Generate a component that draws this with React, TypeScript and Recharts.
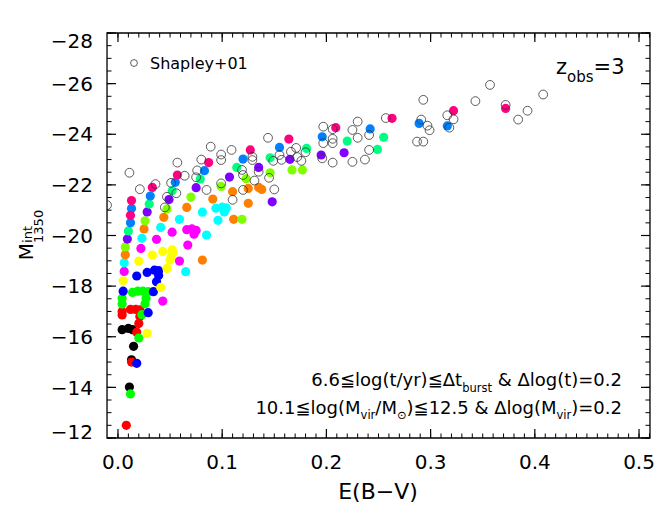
import React from "react";
import { ScatterChart, Scatter, XAxis, YAxis, ReferenceArea } from "recharts";

const FONT = "DejaVu Sans";

// model tracks, one colour each: [E(B-V), M_1350]
const BLACK_PTS = [[0.004, -16.28], [0.010, -16.33], [0.014, -16.28], [0.015, -15.62], [0.013, -15.09], [0.011, -14.01]];
const RED_PTS = [[0.004, -17.0], [0.004, -16.86], [0.012, -17.08], [0.017, -17.08], [0.021, -17.06], [0.021, -16.8], [0.020, -16.52], [0.018, -16.18], [0.013, -15.0], [0.008, -12.5]];
const GREEN_PTS = [[0.004, -17.52], [0.004, -17.29], [0.014, -17.75], [0.019, -17.8], [0.024, -17.8], [0.029, -17.78], [0.027, -17.52], [0.026, -17.3], [0.023, -16.87], [0.020, -15.95], [0.012, -13.74]];
const BLUE_PTS = [[0.005, -17.8], [0.018, -18.4], [0.028, -18.54], [0.035, -18.63], [0.039, -18.61], [0.039, -18.42], [0.037, -18.17], [0.034, -17.78], [0.029, -16.95], [0.018, -14.95]];
const YELLOW_PTS = [[0.005, -18.21], [0.020, -18.99], [0.033, -19.23], [0.043, -19.37], [0.052, -19.43], [0.053, -19.32], [0.051, -19.16], [0.050, -19.03], [0.047, -18.7], [0.041, -17.95], [0.028, -16.13]];
const MAGENTA_PTS = [[0.006, -18.58], [0.022, -19.49], [0.037, -19.85], [0.052, -20.13], [0.066, -20.23], [0.071, -20.26], [0.075, -20.2], [0.073, -20.05], [0.067, -19.62], [0.059, -18.99], [0.043, -17.41]];
const CYAN_PTS = [[0.006, -18.92], [0.023, -19.89], [0.041, -20.32], [0.059, -20.64], [0.081, -20.92], [0.094, -21.08], [0.100, -21.12], [0.104, -21.09], [0.102, -20.93], [0.096, -20.6], [0.085, -20.02], [0.065, -18.57]];
const ORANGE_PTS = [[0.007, -19.24], [0.025, -20.26], [0.044, -20.72], [0.066, -21.11], [0.091, -21.44], [0.110, -21.73], [0.125, -21.86], [0.135, -21.9], [0.138, -21.82], [0.125, -21.27], [0.111, -20.64], [0.081, -19.03]];
const CHARTREUSE_PTS = [[0.007, -19.55], [0.026, -20.58], [0.047, -21.05], [0.070, -21.52], [0.099, -21.94], [0.123, -22.24], [0.146, -22.48], [0.167, -22.59], [0.177, -22.59], [0.119, -20.64]];
const PURPLE_PTS = [[0.009, -19.86], [0.028, -20.93], [0.049, -21.42], [0.075, -21.89], [0.107, -22.31], [0.135, -22.69], [0.165, -23.01], [0.195, -23.18], [0.217, -23.27], [0.148, -21.33]];
const SPRING_PTS = [[0.010, -20.18], [0.030, -21.24], [0.052, -21.77], [0.079, -22.23], [0.114, -22.69], [0.146, -23.07], [0.181, -23.44], [0.220, -23.73], [0.255, -23.88], [0.249, -23.4]];
const AZURE_PTS = [[0.013, -21.07], [0.012, -20.5], [0.031, -21.56], [0.055, -22.1], [0.083, -22.56], [0.120, -23.02], [0.155, -23.48], [0.196, -23.9], [0.242, -24.21], [0.289, -24.43], [0.316, -24.33]];
const PINK_PTS = [[0.013, -21.38], [0.012, -20.8], [0.033, -21.9], [0.057, -22.39], [0.087, -22.88], [0.127, -23.38], [0.164, -23.81], [0.209, -24.26], [0.263, -24.63], [0.322, -24.93], [0.372, -25.02]];

// Shapley et al. 2001 LBGs
const SHAPLEY_PTS = [
  [-0.0105, -21.2], [0.011, -22.48], [0.021, -21.83], [0.036, -22.03], [0.047, -21.53], [0.045, -21.11],
  [0.051, -22.08], [0.056, -21.67], [0.057, -22.88], [0.064, -22.36], [0.076, -22.57], [0.075, -22.3],
  [0.080, -23.0], [0.085, -21.8], [0.089, -23.51], [0.099, -23.2], [0.099, -22.98], [0.099, -22.06],
  [0.109, -23.38], [0.110, -21.41], [0.119, -22.59], [0.120, -22.39], [0.120, -21.8], [0.129, -23.11],
  [0.129, -22.98], [0.135, -22.52], [0.131, -22.17], [0.144, -23.86], [0.145, -22.28], [0.150, -21.82],
  [0.149, -22.95], [0.155, -23.18], [0.157, -22.99], [0.166, -23.31], [0.171, -23.46], [0.172, -23.1],
  [0.176, -22.95], [0.180, -23.29], [0.197, -24.3], [0.197, -23.65], [0.196, -23.05], [0.206, -24.2],
  [0.206, -23.82], [0.206, -23.65], [0.206, -22.88], [0.225, -24.17], [0.230, -24.5], [0.230, -23.86],
  [0.225, -22.91], [0.237, -23.0], [0.241, -23.97], [0.241, -23.38], [0.257, -24.64], [0.287, -23.71],
  [0.293, -23.71], [0.293, -25.36], [0.291, -24.58], [0.297, -24.34], [0.299, -24.16], [0.316, -24.75],
  [0.318, -24.26], [0.322, -24.59], [0.343, -25.31], [0.357, -25.95], [0.372, -25.16], [0.384, -24.58],
  [0.393, -24.93], [0.408, -25.57],
];

const TRACKS = [
  { key: "black", color: "#000000", pts: BLACK_PTS },
  { key: "red", color: "#ff0000", pts: RED_PTS },
  { key: "green", color: "#00ff00", pts: GREEN_PTS },
  { key: "blue", color: "#0000ff", pts: BLUE_PTS },
  { key: "yellow", color: "#ffff00", pts: YELLOW_PTS },
  { key: "magenta", color: "#ff00ff", pts: MAGENTA_PTS },
  { key: "cyan", color: "#00ffff", pts: CYAN_PTS },
  { key: "orange", color: "#ff8000", pts: ORANGE_PTS },
  { key: "chartreuse", color: "#80ff00", pts: CHARTREUSE_PTS },
  { key: "purple", color: "#8000ff", pts: PURPLE_PTS },
  { key: "spring", color: "#00ff80", pts: SPRING_PTS },
  { key: "azure", color: "#0080ff", pts: AZURE_PTS },
  { key: "pink", color: "#ff0080", pts: PINK_PTS },
];

const X_DOMAIN = [-0.0105, 0.5105];
const Y_DOMAIN = [-28, -12];
const X_TICKS = [0, 0.1, 0.2, 0.3, 0.4, 0.5];
const Y_TICKS = [-28, -26, -24, -22, -20, -18, -16, -14, -12];
const X_MINOR = Array.from({ length: 52 }, (_, i) => i / 100);
const Y_MINOR = Array.from({ length: 33 }, (_, i) => -28 + i * 0.5);

const W = 664;
const H = 511;
const THIN = 0.01; // axes need a non-zero size to be drawn
const BIG = 9;
const SMALL = 4.5;

const toXY = (pts: number[][]) => pts.map(([x, y]) => ({ x, y }));

const filled = (color: string) => (p: any) => <circle cx={p.cx} cy={p.cy} r={4.6} fill={color} />;
const hollow = (p: any) => <circle cx={p.cx} cy={p.cy} r={4.4} fill="none" stroke="#333" strokeWidth={0.8} />;

const minus = (v: number) => (v < 0 ? "\u2212" + Math.abs(v) : String(v));

// inward tick marks, drawn from the axis position handed to the tick renderer
const DIR: Record<string, [number, number]> = { b: [0, -1], t: [0, 1], l: [1, 0], r: [-1, 0] };
const mark = (side: string, len: number) => ({ x, y }: any) => (
  <line x1={x} y1={y} x2={x + DIR[side][0] * len} y2={y + DIR[side][1] * len} stroke="#000" strokeWidth={len > 5 ? 1.2 : 1} />
);

function XLabelTick({ x, y, payload }: any) {
  return (
    <g>
      <line x1={x} y1={y} x2={x} y2={y - BIG} stroke="#000" strokeWidth={1.2} />
      <text x={x} y={y + 17} dy="0.71em" textAnchor="middle" fontSize={20} fontFamily={FONT} fill="#000">
        {payload.value.toFixed(1)}
      </text>
    </g>
  );
}

function YLabelTick({ x, y, payload }: any) {
  // end labels sit pulled inside the frame
  const shift = payload.value === -28 ? 8 : payload.value === -12 ? -6 : 0;
  return (
    <g>
      <line x1={x} y1={y} x2={x + BIG} y2={y} stroke="#000" strokeWidth={1.2} />
      <text x={x - 14} y={y + shift} dy="0.36em" textAnchor="end" fontSize={20} fontFamily={FONT} fill="#000">
        {minus(payload.value)}
      </text>
    </g>
  );
}

const common = { type: "number" as const, allowDataOverflow: true, interval: 0, tickSize: 0, tickMargin: 0, tickLine: false, axisLine: false };

export default function App() {
  return (
    <div style={{ width: W, height: H }}>
      <style>{"body{margin:0}"}</style>
      <ScatterChart width={W} height={H} margin={{ top: 33, right: 14, bottom: 73, left: 107 }}>
        <XAxis xAxisId="b" dataKey="x" domain={X_DOMAIN} ticks={X_TICKS} height={THIN} orientation="bottom" tick={<XLabelTick />} {...common} />
        <XAxis xAxisId="bm" dataKey="x" domain={X_DOMAIN} ticks={X_MINOR} height={THIN} orientation="bottom" tick={mark("b", SMALL)} {...common} />
        <XAxis xAxisId="t" dataKey="x" domain={X_DOMAIN} ticks={X_TICKS} height={THIN} orientation="top" tick={mark("t", BIG)} {...common} />
        <XAxis xAxisId="tm" dataKey="x" domain={X_DOMAIN} ticks={X_MINOR} height={THIN} orientation="top" tick={mark("t", SMALL)} {...common} />
        <YAxis yAxisId="l" dataKey="y" domain={Y_DOMAIN} reversed ticks={Y_TICKS} width={THIN} orientation="left" tick={<YLabelTick />} {...common} />
        <YAxis yAxisId="lm" dataKey="y" domain={Y_DOMAIN} reversed ticks={Y_MINOR} width={THIN} orientation="left" tick={mark("l", SMALL)} {...common} />
        <YAxis yAxisId="r" dataKey="y" domain={Y_DOMAIN} reversed ticks={Y_TICKS} width={THIN} orientation="right" tick={mark("r", BIG)} {...common} />
        <YAxis yAxisId="rm" dataKey="y" domain={Y_DOMAIN} reversed ticks={Y_MINOR} width={THIN} orientation="right" tick={mark("r", SMALL)} {...common} />

        {/* plot frame */}
        <ReferenceArea xAxisId="b" yAxisId="l" x1={X_DOMAIN[0]} x2={X_DOMAIN[1]} y1={Y_DOMAIN[0]} y2={Y_DOMAIN[1]}
          ifOverflow="visible" fill="none" fillOpacity={0} stroke="#000" strokeWidth={1.3} strokeOpacity={1} />

        {TRACKS.map((t) => (
          <Scatter key={t.key} xAxisId="b" yAxisId="l" data={toXY(t.pts)} shape={filled(t.color)} isAnimationActive={false} />
        ))}
        <Scatter xAxisId="b" yAxisId="l" data={toXY(SHAPLEY_PTS)} shape={hollow} isAnimationActive={false} />

        {/* legend */}
        <circle cx={134} cy={63} r={3.4} fill="none" stroke="#333" strokeWidth={0.8} />
        <text x={150} y={69} fontSize={16} fontFamily={FONT} fill="#000">Shapley+01</text>

        {/* redshift tag */}
        <text x={556} y={74} fontSize={21} fontFamily={FONT} fill="#000">
          z<tspan fontSize={15} dy={8}>obs</tspan><tspan fontSize={21} dy={-8}>=3</tspan>
        </text>

        {/* parameter ranges */}
        <text x={622} y={386} textAnchor="end" fontSize={18} fontFamily={FONT} fill="#000">
          6.6{"\u2266"}log(t/yr){"\u2266"}{"\u0394"}t<tspan fontSize={11.5} dy={6}>burst</tspan>
          <tspan dy={-6}>{" & \u0394log(t)=0.2"}</tspan>
        </text>
        <text x={622} y={414} textAnchor="end" fontSize={18} fontFamily={FONT} fill="#000">
          10.1{"\u2266"}log(M<tspan fontSize={11.5} dy={5}>vir</tspan>
          <tspan dy={-5}>/M</tspan><tspan fontSize={11.5} dy={5}>{"\u2299"}</tspan>
          <tspan dy={-5}>{")\u226612.5 & \u0394log(M"}</tspan><tspan fontSize={11.5} dy={5}>vir</tspan>
          <tspan dy={-5}>)=0.2</tspan>
        </text>

        {/* axis titles */}
        <text x={378} y={499} textAnchor="middle" fontSize={22} fontFamily={FONT} fill="#000">E(B{"\u2212"}V)</text>
        <text transform="translate(33,235) rotate(-90)" textAnchor="middle" fontSize={20} fontFamily={FONT} fill="#000">
          M<tspan fontSize={13} dy={-1}>int</tspan>
          <tspan fontSize={13} dx={-17} dy={11}>1350</tspan>
        </text>
      </ScatterChart>
    </div>
  );
}
